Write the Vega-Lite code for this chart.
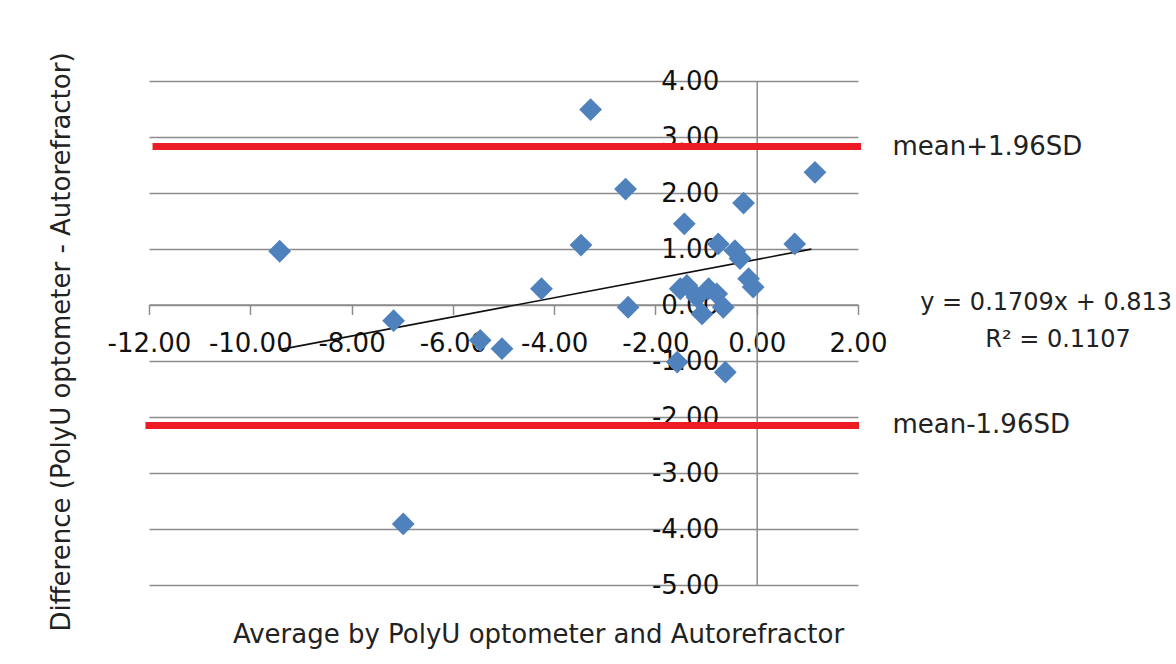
{
  "$schema": "https://vega.github.io/schema/vega-lite/v6.json",
  "autosize": "none",
  "width": 709,
  "height": 504,
  "padding": {"left": 149, "top": 81, "right": 318, "bottom": 79},
  "background": "#ffffff",
  "config": {
    "view": {"stroke": null},
    "font": "DejaVu Sans",
    "axis": {
      "labelFont": "DejaVu Sans",
      "labelFontSize": 26,
      "labelColor": "#111111",
      "titleFont": "DejaVu Sans",
      "titleFontSize": 26,
      "titleFontWeight": "normal",
      "titleColor": "#222222"
    }
  },
  "datasets": {
    "points": [
      {"avg": -9.42, "diff": 0.96},
      {"avg": -7.17, "diff": -0.28},
      {"avg": -6.98, "diff": -3.91},
      {"avg": -5.46, "diff": -0.63},
      {"avg": -5.03, "diff": -0.78},
      {"avg": -4.25, "diff": 0.29},
      {"avg": -3.47, "diff": 1.07},
      {"avg": -3.28, "diff": 3.49},
      {"avg": -2.59, "diff": 2.07},
      {"avg": -2.54, "diff": -0.04},
      {"avg": -1.57, "diff": -1.02},
      {"avg": -1.43, "diff": 1.45},
      {"avg": -1.51, "diff": 0.29},
      {"avg": -1.38, "diff": 0.35},
      {"avg": -1.18, "diff": 0.14},
      {"avg": -1.08, "diff": -0.16},
      {"avg": -0.95, "diff": 0.29},
      {"avg": -0.79, "diff": 0.2},
      {"avg": -0.66, "diff": -0.04},
      {"avg": -0.62, "diff": -1.2},
      {"avg": -0.76, "diff": 1.09},
      {"avg": -0.43, "diff": 0.97},
      {"avg": -0.33, "diff": 0.83},
      {"avg": -0.26, "diff": 1.82},
      {"avg": -0.16, "diff": 0.47},
      {"avg": -0.07, "diff": 0.32},
      {"avg": 0.75, "diff": 1.09},
      {"avg": 1.15, "diff": 2.37}
    ],
    "limits": [
      {"avg": -11.93, "avg2": 2.06, "diff": 2.83, "label": "mean+1.96SD", "lx": 2.68},
      {"avg": -12.07, "avg2": 2.02, "diff": -2.15, "label": "mean-1.96SD", "lx": 2.68}
    ],
    "trend": [
      {"avg": -9.42, "diff": -0.797},
      {"avg": 1.08, "diff": 0.998}
    ],
    "notes": [
      {"avg": 3.23, "diff": 0.03, "label": "y = 0.1709x + 0.813", "align": "left"},
      {"avg": 5.95, "diff": -0.63, "label": "R² = 0.1107", "align": "center"}
    ]
  },
  "encoding": {
    "x": {
      "field": "avg",
      "type": "quantitative",
      "scale": {"domain": [-12, 2], "nice": false, "zero": false},
      "axis": {
        "orient": "bottom",
        "offset": -280.5,
        "values": [-12, -10, -8, -6, -4, -2, 0, 2],
        "labelExpr": "(datum.value < 0 ? '-' : '') + format(abs(datum.value), '.2f')",
        "grid": false,
        "domainColor": "#8c8c8c",
        "domainWidth": 1.5,
        "tickColor": "#8c8c8c",
        "tickWidth": 1.5,
        "tickSize": 10,
        "labelPadding": 16,
        "labelFlush": false,
        "labelOverlap": false,
        "title": "Average by PolyU optometer and Autorefractor",
        "titleX": 389,
        "titleY": 329.5,
        "titleAlign": "center",
        "titleBaseline": "middle"
      }
    },
    "y": {
      "field": "diff",
      "type": "quantitative",
      "scale": {"domain": [-5, 4], "nice": false, "zero": false},
      "axis": {
        "orient": "left",
        "offset": -607.7,
        "values": [-5, -4, -3, -2, -1, 0, 1, 2, 3, 4],
        "labelExpr": "(datum.value < 0 ? '-' : '') + format(abs(datum.value), '.2f')",
        "grid": true,
        "gridColor": "#8c8c8c",
        "gridWidth": 1.5,
        "domainColor": "#8c8c8c",
        "domainWidth": 1.5,
        "ticks": false,
        "labelPadding": 38,
        "labelFlush": false,
        "labelOverlap": false,
        "title": "Difference (PolyU optometer - Autorefractor)",
        "titleX": -695,
        "titleY": 260.5,
        "titleAngle": -90,
        "titleAlign": "center",
        "titleBaseline": "middle"
      }
    }
  },
  "layer": [
    {
      "data": {"name": "limits"},
      "mark": {"type": "rule", "color": "#ed1c24", "strokeWidth": 7},
      "encoding": {"x2": {"field": "avg2"}}
    },
    {
      "data": {"name": "limits"},
      "mark": {"type": "text", "align": "left", "baseline": "middle", "fontSize": 26, "color": "#222222", "font": "DejaVu Sans"},
      "encoding": {"x": {"field": "lx", "type": "quantitative"}, "text": {"field": "label"}}
    },
    {
      "data": {"name": "trend"},
      "mark": {"type": "line", "color": "#111111", "strokeWidth": 1.6},
      "encoding": {}
    },
    {
      "data": {"name": "points"},
      "mark": {"type": "point", "shape": "diamond", "filled": true, "size": 520, "color": "#4f81bd", "opacity": 1},
      "encoding": {}
    },
    {
      "data": {"name": "notes"},
      "transform": [{"filter": "datum.align == 'left'"}],
      "mark": {"type": "text", "align": "left", "baseline": "middle", "fontSize": 24, "color": "#222222", "font": "DejaVu Sans"},
      "encoding": {"text": {"field": "label"}}
    },
    {
      "data": {"name": "notes"},
      "transform": [{"filter": "datum.align == 'center'"}],
      "mark": {"type": "text", "align": "center", "baseline": "middle", "fontSize": 24, "color": "#222222", "font": "DejaVu Sans"},
      "encoding": {"text": {"field": "label"}}
    }
  ]
}
